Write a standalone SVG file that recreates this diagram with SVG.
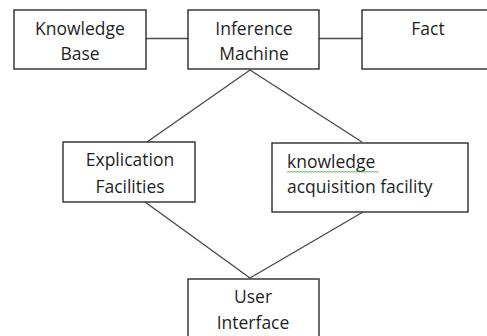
<svg xmlns="http://www.w3.org/2000/svg" width="487" height="336" viewBox="0 0 487 336">
  <style>
    .box { fill: #ffffff; stroke: #2b2b2b; stroke-width: 1.4; }
    .link { stroke: #4a4a4a; stroke-width: 1.4; fill: none; }
    .label { font-family: "Open Sans", "Liberation Sans", sans-serif; font-size: 17.5px; fill: #1f1f1f; }
    .mid { text-anchor: middle; }
    .squiggle { stroke: #3aa83a; stroke-width: 0.9; fill: none; }
  </style>
  <rect width="487" height="336" fill="#ffffff"/>

  <g id="connectors">
    <line class="link" x1="146" y1="38.5" x2="188" y2="38.5"/>
    <line class="link" x1="319" y1="38.5" x2="362" y2="38.5"/>
    <polyline class="link" points="147,142 250,70 362,142"/>
    <polyline class="link" points="145,202 250,278 363,212"/>
  </g>

  <g id="knowledge-base">
    <rect class="box" x="14" y="10" width="132" height="59"/>
    <text class="label mid" x="80" y="35">Knowledge</text>
    <text class="label mid" x="80" y="60">Base</text>
  </g>

  <g id="inference-machine">
    <rect class="box" x="188" y="10" width="131" height="59"/>
    <text class="label mid" x="254" y="35">Inference</text>
    <text class="label mid" x="254" y="60">Machine</text>
  </g>

  <g id="fact">
    <rect class="box" x="362" y="10" width="135" height="59"/>
    <text class="label mid" x="428" y="35">Fact</text>
  </g>

  <g id="explication-facilities">
    <rect class="box" x="63" y="142" width="132" height="60"/>
    <text class="label mid" x="130" y="166">Explication</text>
    <text class="label mid" x="130" y="193">Facilities</text>
  </g>

  <g id="knowledge-acquisition">
    <rect class="box" x="272" y="143" width="196" height="69"/>
    <text class="label" x="287" y="168">knowledge</text>
    <!-- wavy underline under the first word -->
    <path class="squiggle" d="M287,172.5 l1.5,-1.5 l1.5,1.5 l1.5,-1.5 l1.5,1.5 l1.5,-1.5 l1.5,1.5 l1.5,-1.5 l1.5,1.5 l1.5,-1.5 l1.5,1.5 l1.5,-1.5 l1.5,1.5 l1.5,-1.5 l1.5,1.5 l1.5,-1.5 l1.5,1.5 l1.5,-1.5 l1.5,1.5 l1.5,-1.5 l1.5,1.5 l1.5,-1.5 l1.5,1.5 l1.5,-1.5 l1.5,1.5 l1.5,-1.5 l1.5,1.5 l1.5,-1.5 l1.5,1.5 l1.5,-1.5 l1.5,1.5 l1.5,-1.5 l1.5,1.5 l1.5,-1.5 l1.5,1.5 l1.5,-1.5 l1.5,1.5 l1.5,-1.5 l1.5,1.5 l1.5,-1.5 l1.5,1.5 l1.5,-1.5 l1.5,1.5 l1.5,-1.5 l1.5,1.5 l1.5,-1.5 l1.5,1.5 l1.5,-1.5 l1.5,1.5 l1.5,-1.5 l1.5,1.5 l1.5,-1.5 l1.5,1.5 l1.5,-1.5 l1.5,1.5 l1.5,-1.5 l1.5,1.5 l1.5,-1.5 l1.5,1.5 l1.5,-1.5 l1.5,1.5 l1.5,-1.5"/>
    <text class="label" x="287" y="193">acquisition facility</text>
  </g>

  <g id="user-interface">
    <rect class="box" x="188" y="279" width="131" height="65"/>
    <text class="label mid" x="253" y="303">User</text>
    <text class="label mid" x="253" y="329">Interface</text>
  </g>
</svg>
